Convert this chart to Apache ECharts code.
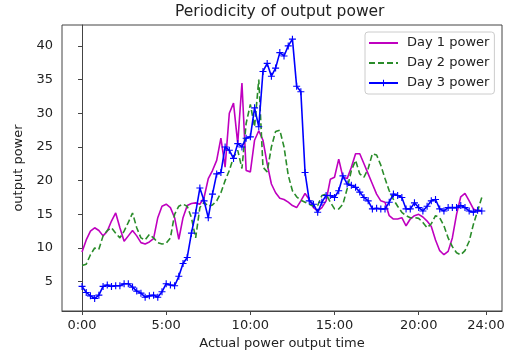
<!DOCTYPE html>
<html>
<head>
<meta charset="utf-8">
<script src="https://cdn.jsdelivr.net/npm/echarts@6/dist/echarts.min.js"></script>
<style>
  html, body { margin: 0; padding: 0; background: #ffffff; }
  #chart { width: 511px; height: 358px; }
</style>
</head>
<body>
<div id="chart"></div>
<script>
// sampled every 15 minutes, from 0:00 to 23:45
const stepHours = 0.25;

const day1Power = [
  9.4, 11.2, 12.5, 13.0, 12.6, 11.8, 12.5, 14.0, 15.2, 13.0, 11.0, 11.8,
  12.6, 11.8, 10.8, 10.6, 10.9, 11.4, 14.5, 16.2, 16.5, 16.0, 14.5, 11.3,
  14.5, 16.3, 16.6, 16.7, 16.5, 17.5, 20.3, 21.5, 23.0, 26.3, 22.0, 30.0,
  31.5, 25.5, 34.5, 21.5, 21.3, 26.0, 27.4, 26.0, 22.5, 19.5, 18.2, 17.4,
  17.2, 16.8, 16.3, 16.0, 17.0, 18.1, 17.2, 16.0, 15.5, 16.0, 17.0, 20.2,
  20.5, 23.2, 20.5, 20.3, 22.0, 24.0, 24.0, 22.5, 21.0, 19.5, 18.0, 17.0,
  16.8, 14.8, 14.3, 14.3, 14.5, 13.3, 14.3, 14.8, 15.0, 14.6, 14.0, 13.2,
  11.2, 9.6, 9.0, 9.5, 11.5, 15.0, 17.6, 18.1, 17.0, 15.8, 15.5, 15.5
];

const day2Power = [
  7.4, 7.6, 9.0, 10.0, 9.8, 11.8, 12.6, 13.0, 12.2, 11.5, 12.5, 13.8,
  15.2, 13.0, 11.5, 11.2, 12.0, 11.5, 10.8, 10.6, 10.7, 11.5, 15.0, 16.2,
  16.5, 16.2, 14.5, 11.5, 16.0, 16.8, 16.2, 16.4, 17.0, 18.2, 20.0, 21.5,
  23.5, 24.5, 21.8, 28.5, 31.3, 28.0, 35.0, 22.0, 21.3, 25.0, 27.3, 27.5,
  25.0, 20.8, 18.5, 17.6, 17.1, 16.8, 16.5, 16.2, 16.3, 17.8, 18.0, 16.8,
  15.8, 15.8, 16.5, 18.8, 21.5, 23.0, 21.0, 20.5, 21.8, 24.0, 23.8, 22.3,
  20.3, 18.5, 17.2, 16.2, 15.3, 14.8, 14.5, 14.5, 14.4, 13.8, 13.0, 13.6,
  14.8, 14.5, 13.3, 11.5, 10.2, 9.3, 9.0, 9.6, 11.0, 13.5, 15.5, 17.5
];

const day3Power = [
  4.3, 3.4, 2.9, 2.5, 3.0, 4.3, 4.5, 4.3, 4.4, 4.4, 4.7, 4.7,
  4.2, 3.6, 3.3, 2.7, 2.9, 3.0, 2.7, 3.5, 4.7, 4.5, 4.4, 5.8,
  7.7, 8.6, 12.2, 15.2, 18.9, 17.0, 14.5, 18.0, 21.0, 21.2, 25.0, 24.5,
  23.3, 25.5, 25.0, 26.3, 26.5, 30.8, 28.0, 36.2, 37.4, 35.5, 36.7, 39.0,
  38.5, 40.0, 41.0, 34.0, 33.2, 21.2, 17.0, 16.5, 15.3, 16.8, 17.8, 17.8,
  17.5, 18.5, 20.7, 19.5, 19.3, 19.0, 18.3, 17.5, 17.0, 15.8, 15.9, 15.8,
  15.8, 16.8, 18.0, 17.8, 17.5, 15.8, 15.8, 16.7, 16.0, 15.5, 16.2, 17.0,
  17.2, 15.8, 15.5, 16.0, 16.0, 16.0, 16.3, 16.0, 15.5, 15.3, 15.6, 15.5
];

const seriesNames = ["Day 1 power", "Day 2 power", "Day 3 power"];
const xTickHours = [0, 5, 10, 15, 20, 24];
const yTicks = [5, 10, 15, 20, 25, 30, 35, 40];

function toPoints(values) {
  return values.map((v, i) => [i * stepHours, v]);
}

const plusSymbol = "path://M4.2,0H5.8V4.2H10V5.8H5.8V10H4.2V5.8H0V4.2H4.2Z";
const textColor = "#222";
const axisColor = "#444";
const fontFamily = "DejaVu Sans";
// line-only legend entries: hide the default circle
const noMarker = { color: "rgba(0,0,0,0)", opacity: 0, borderWidth: 0 };

let myChart = echarts.init(document.getElementById("chart"), null, { renderer: "canvas" });

let options = {
  animation: false,
  backgroundColor: "#ffffff",
  textStyle: { fontFamily: fontFamily, color: textColor },
  title: {
    text: "Periodicity of output power",
    left: 175,
    top: 4,
    padding: 0,
    textStyle: { fontFamily: fontFamily, fontSize: 15.5, fontWeight: "normal", color: textColor },
  },
  grid: {
    left: 62,
    right: 9,
    top: 25,
    bottom: 47,
    show: true,
    borderColor: axisColor,
    borderWidth: 1,
    outerBoundsMode: "none",
  },
  legend: {
    orient: "vertical",
    left: 365,
    top: 32,
    padding: [4, 5, 4, 3],
    itemGap: 6,
    itemWidth: 29,
    itemHeight: 8,
    backgroundColor: "#ffffff",
    borderColor: "#cccccc",
    borderWidth: 1,
    borderRadius: 3,
    data: [
      { name: seriesNames[0], itemStyle: noMarker },
      { name: seriesNames[1], itemStyle: noMarker },
      { name: seriesNames[2] },
    ],
    textStyle: { fontFamily: fontFamily, fontSize: 13, color: textColor, lineHeight: 14, padding: [0, 0, 0, 4] },
  },
  xAxis: {
    type: "value",
    min: -1.19,
    max: 24.95,
    name: "Actual power output time",
    nameLocation: "middle",
    nameGap: 26,
    nameTextStyle: { fontFamily: fontFamily, fontSize: 13, color: textColor },
    splitLine: { show: false },
    axisLine: { lineStyle: { color: axisColor, width: 1 } },
    axisTick: { show: true, inside: false, length: 4, customValues: xTickHours, lineStyle: { color: axisColor } },
    axisLabel: {
      customValues: xTickHours,
      margin: 8,
      fontFamily: fontFamily,
      fontSize: 13,
      color: textColor,
      formatter: (v) => v + ":00",
    },
  },
  yAxis: {
    type: "value",
    min: 0.65,
    max: 43.1,
    name: "output power",
    nameLocation: "middle",
    nameGap: 33,
    nameTextStyle: { fontFamily: fontFamily, fontSize: 13, color: textColor },
    splitLine: { show: false },
    axisLine: { show: true, lineStyle: { color: axisColor, width: 1 } },
    axisTick: { show: true, inside: false, length: 4, customValues: yTicks, lineStyle: { color: axisColor } },
    axisLabel: {
      customValues: yTicks,
      margin: 9,
      fontFamily: fontFamily,
      fontSize: 13,
      color: textColor,
    },
  },
  series: [
    {
      name: seriesNames[0],
      type: "line",
      data: toPoints(day1Power),
      symbol: "none",
      lineStyle: { color: "#bf00bf", width: 1.6 },
      itemStyle: { color: "#bf00bf" },
    },
    {
      name: seriesNames[1],
      type: "line",
      data: toPoints(day2Power),
      symbol: "none",
      lineStyle: { color: "#2a8c2a", width: 1.6, type: [6, 3] },
      itemStyle: { color: "#2a8c2a" },
    },
    {
      name: seriesNames[2],
      type: "line",
      data: toPoints(day3Power),
      symbol: plusSymbol,
      symbolSize: 7,
      showAllSymbol: true,
      lineStyle: { color: "#0000ff", width: 1.6 },
      itemStyle: { color: "#0000ff" },
    },
  ],
};

myChart.setOption(options);
</script>
</body>
</html>
